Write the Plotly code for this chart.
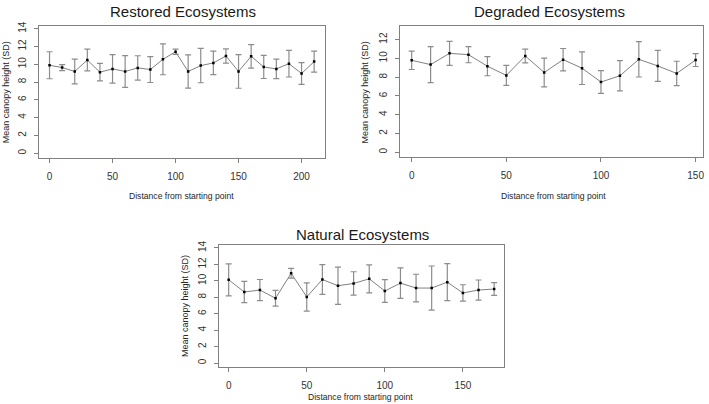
import plotly.graph_objects as go

W, H = 709, 404

# ---------------- data ----------------
restored_x = [0, 10, 20, 30, 40, 50, 60, 70, 80, 90, 100, 110, 120, 130, 140, 150, 160, 170, 180, 190, 200, 210]
restored_mean = [9.89, 9.63, 9.19, 10.48, 9.11, 9.48, 9.19, 9.59, 9.41, 10.56, 11.41, 9.19, 9.85, 10.15, 10.93, 9.19, 10.89, 9.70, 9.48, 10.07, 8.96, 10.30]
restored_sd = [1.52, 0.34, 1.39, 1.22, 0.98, 1.61, 1.78, 1.37, 1.46, 1.74, 0.30, 1.87, 1.93, 1.32, 0.80, 1.89, 1.32, 1.30, 1.10, 1.50, 1.23, 1.19]

degraded_x = [0, 10, 20, 30, 40, 50, 60, 70, 80, 90, 100, 110, 120, 130, 140, 150]
degraded_mean = [9.79, 9.33, 10.53, 10.39, 9.16, 8.18, 10.25, 8.49, 9.86, 8.95, 7.47, 8.14, 9.89, 9.19, 8.39, 9.82]
degraded_sd = [0.98, 1.91, 1.28, 0.86, 1.02, 1.07, 0.74, 1.53, 1.19, 1.74, 1.21, 1.62, 1.88, 1.65, 1.30, 0.69]

natural_x = [0, 10, 20, 30, 40, 50, 60, 70, 80, 90, 100, 110, 120, 130, 140, 150, 160, 170]
natural_mean = [10.12, 8.64, 8.88, 7.88, 10.92, 8.04, 10.16, 9.40, 9.68, 10.24, 8.76, 9.72, 9.12, 9.12, 9.84, 8.52, 8.88, 9.00]
natural_sd = [1.94, 1.28, 1.28, 0.96, 0.60, 1.72, 1.80, 2.26, 1.42, 1.70, 1.38, 1.86, 1.68, 2.68, 2.24, 1.00, 1.22, 0.78]

titles = ["Restored Ecosystems", "Degraded Ecosystems", "Natural Ecosystems"]
x_title = "Distance from starting point"
y_title = "Mean canopy height (SD)"

# ---------------- layout helpers ----------------
def px(x):
    return x / W

def py(y):
    return 1 - y / H

LINE = "#808080"
ERR = "#8c8c8c"
TXT = "#262626"
FONT = "Liberation Sans, Arial, sans-serif"

panels = [
    dict(x=restored_x, m=restored_mean, s=restored_sd, l=39, r=325.7, t=21.7, b=155,
         xr=[-8.4, 218.8], yr=[-0.56, 14.26], xt=[0, 50, 100, 150, 200], yt=list(range(0, 15, 2)),
         tt=(183, 7), yx=6, xtp=(182, 193)),
    dict(x=degraded_x, m=degraded_mean, s=degraded_sd, l=400.7, r=704, t=21.7, b=154.3,
         xr=[-6.1, 153.9], yr=[-0.56, 13.4], xt=[0, 50, 100, 150], yt=list(range(0, 13, 2)),
         tt=(550, 7), yx=365, xtp=(554, 193)),
    dict(x=natural_x, m=natural_mean, s=natural_sd, l=219.3, r=505, t=243.3, b=366.7,
         xr=[-6.2, 176.5], yr=[-0.5, 14.32], xt=[0, 50, 100, 150], yt=list(range(0, 15, 2)),
         tt=(363, 232), yx=185, xtp=(361, 397)),
]

fig = go.Figure()
layout = dict(width=W, height=H, margin=dict(l=0, r=0, t=0, b=0), autosize=False,
              paper_bgcolor="white", plot_bgcolor="white", showlegend=False,
              font=dict(family=FONT, color=TXT))
annotations = []

for i, p in enumerate(panels, start=1):
    sfx = "" if i == 1 else str(i)
    fig.add_trace(go.Scatter(
        x=p["x"], y=p["m"], mode="lines+markers",
        line=dict(color=LINE, width=1),
        marker=dict(symbol="square", size=2.5, color="black"),
        error_y=dict(type="data", array=p["s"], visible=True, color=ERR, thickness=1.2, width=3),
        xaxis="x" + sfx, yaxis="y" + sfx, hoverinfo="skip"))
    axcommon = dict(showline=True, linecolor=LINE, linewidth=1, mirror=True, showgrid=False,
                    zeroline=False, ticks="outside", ticklen=4, tickcolor=LINE, tickwidth=1,
                    tickfont=dict(size=10, color="#333333", family=FONT))
    layout["xaxis" + sfx] = dict(axcommon, domain=[px(p["l"]), px(p["r"])], range=p["xr"],
                                 tickvals=p["xt"], anchor="y" + sfx, ticklabelstandoff=5)
    layout["yaxis" + sfx] = dict(axcommon, domain=[py(p["b"]), py(p["t"])], range=p["yr"],
                                 tickvals=p["yt"], anchor="x" + sfx, tickangle=-90,
                                 ticklabelstandoff=4)
    annotations.append(dict(text=titles[i - 1], x=px(p["tt"][0]), y=py(p["tt"][1]),
                            xref="paper", yref="paper", showarrow=False,
                            xanchor="center", yanchor="middle",
                            font=dict(size=15, color="#1a1a1a", family=FONT)))
    annotations.append(dict(text=y_title, x=px(p["yx"]), y=py((p["t"] + p["b"]) / 2),
                            xref="paper", yref="paper", showarrow=False, textangle=-90,
                            xanchor="center", yanchor="middle",
                            font=dict(size=9, color=TXT, family=FONT)))
    annotations.append(dict(text=x_title, x=px(p["xtp"][0]), y=py(p["xtp"][1]),
                            xref="paper", yref="paper", showarrow=False,
                            xanchor="center", yanchor="middle",
                            font=dict(size=8.6, color=TXT, family=FONT)))

layout["annotations"] = annotations
fig.update_layout(**layout)
fig.write_html("out.html")
